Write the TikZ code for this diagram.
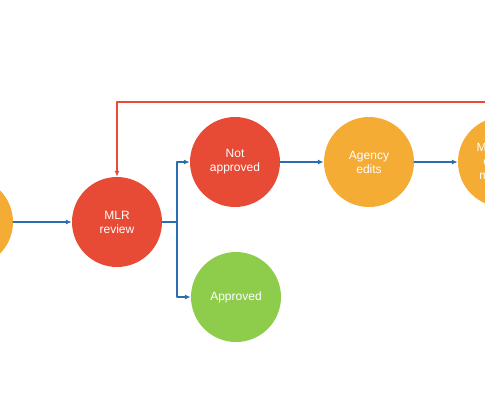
\documentclass[tikz,border=0pt]{standalone}
\usepackage{fontspec}
\setmainfont{Liberation Sans}
\usetikzlibrary{arrows.meta,calc}
\definecolor{redflow}{HTML}{E84B35}
\definecolor{orangeflow}{HTML}{F5AC35}
\definecolor{greenflow}{HTML}{8DCD4B}
\definecolor{blueflow}{HTML}{2C6DB2}
\tikzset{etape/.style={circle,minimum size=90pt,inner sep=0pt,text=white,align=center,
		font=\fontsize{12}{14}\selectfont},
	blueline/.style={line width=1.8pt,blueflow,-{Latex[length=6pt,width=5pt]}},
	redline/.style={line width=1.5pt,redflow,-{Latex[length=6pt,width=5pt]}}}
\begin{document}
\begin{tikzpicture}[x=1pt,y=-1pt,line join=round, line cap=round]
\useasboundingbox (0,0) rectangle (485,405);
\clip (0,0) rectangle (485,405);
\node[etape,fill=orangeflow] (P) at (-32,222) {};
\node[etape,fill=redflow] (R) at (117,222) {MLR\\review};
\node[etape,fill=redflow] (N) at (235,162) {Not\\approved};
\node[etape,fill=orangeflow] (E) at (369,162) {Agency\\edits};
\node[etape,fill=greenflow] (A) at (236,297) {Approved};
\node[etape,fill=orangeflow] (C) at (503,162) {Marketing\\content\\manager};
\coordinate (S) at (177,222);
\coordinate (T) at (495,102);
\draw[blueline] (P) -- (R);
\draw[blueline,-] (R) -- (S);
\draw[blueline] (S) |- (N);
\draw[blueline] (S) |- (A);
\draw[blueline] (N) -- (E);
\draw[blueline] (E) -- (C);
\draw[redline] (T) -| (R.north);
\end{tikzpicture}
\end{document}
